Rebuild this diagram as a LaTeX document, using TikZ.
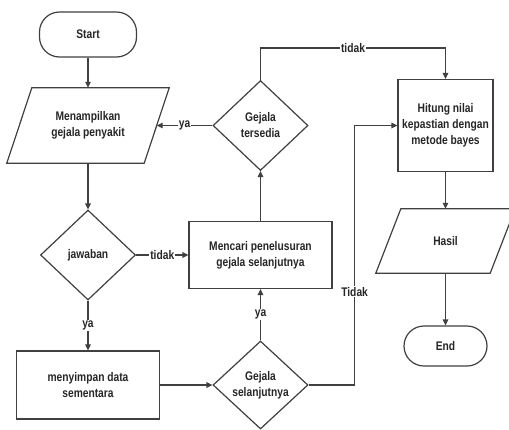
\documentclass[tikz,border=0pt]{standalone}
\usepackage{fontspec}
\setmainfont{Liberation Sans}[FakeStretch=0.82]
\usetikzlibrary{shapes.geometric,arrows.meta}
\definecolor{ln}{HTML}{404040}
\definecolor{tx}{HTML}{262626}
\begin{document}
\begin{tikzpicture}[x=1pt,y=-1pt,
  every node/.style={font=\bfseries\fontsize{12.5}{16}\selectfont, text=tx, align=center},
  box/.style={draw=ln, line width=1.2pt, rectangle, inner sep=0pt},
  term/.style={draw=ln, line width=1.2pt, rectangle, rounded corners=20pt, inner sep=0pt},
  dec/.style={draw=ln, line width=1.2pt, diamond, inner sep=0pt},
  iobox/.style={rectangle, inner sep=0pt},
  shapeline/.style={draw=ln, line width=1.2pt, line join=miter},
  arr/.style={draw=ln, line width=1.2pt, -{Triangle[length=6pt,width=5.5pt]}},
  lab/.style={fill=white, inner sep=1pt}]
\useasboundingbox (0,0) rectangle (509,429);
\fill[white] (0,0) rectangle (509,429);

% nodes
\node[term, minimum width=97pt, minimum height=45pt] (start) at (88,34.5) {Start};
\node[iobox, minimum width=137pt, minimum height=75pt] (tampil) at (88,125.5) {Menampilkan\\gejala penyakit};
\node[dec, minimum width=95pt, minimum height=90pt] (jawab) at (88,255) {jawaban};
\node[box, minimum width=143pt, minimum height=68pt] (simpan) at (88,385) {menyimpan data\\sementara};
\node[dec, minimum width=95pt, minimum height=88pt] (lanjut) at (260.5,385) {Gejala\\selanjutnya};
\node[box, minimum width=143pt, minimum height=67pt] (cari) at (260.5,255) {Mencari penelusuran\\gejala selanjutnya};
\node[dec, minimum width=95pt, minimum height=90pt] (sedia) at (260.5,125.5) {Gejala\\tersedia};
\node[box, minimum width=95pt, minimum height=92pt] (hitung) at (445.5,125.5) {Hitung nilai\\kepastian dengan\\metode bayes};
\node[iobox, minimum width=114pt, minimum height=64pt] (hasil) at (445.5,241) {Hasil};
\node[term, minimum width=83pt, minimum height=40pt] (end) at (445.5,346) {End};

% parallelograms
\draw[shapeline] ([xshift=12.5pt]tampil.north west) -- ([xshift=12.5pt]tampil.north east)
  -- ([xshift=-12.5pt]tampil.south east) -- ([xshift=-12.5pt]tampil.south west) -- cycle;
\draw[shapeline] ([xshift=12.5pt]hasil.north west) -- ([xshift=12.5pt]hasil.north east)
  -- ([xshift=-12.5pt]hasil.south east) -- ([xshift=-12.5pt]hasil.south west) -- cycle;

% connectors
\draw[arr] (start.south) -- (tampil.north);
\draw[arr] (tampil.south) -- (jawab.north);
\draw[arr] (jawab.east) -- node[lab] {tidak} (cari.west);
\draw[arr] (jawab.south) -- node[lab] {ya} (simpan.north);
\draw[arr] (simpan.east) -- (lanjut.west);
\draw[arr] (lanjut.north) -- node[lab] {ya} (cari.south);
\draw[arr] (cari.north) -- (sedia.south);
\draw[arr] (sedia.west) -- node[lab] {ya} (tampil.east);
\draw[arr] (sedia.north) -- ++(0,-32) -| node[lab, pos=0.25] {tidak} (hitung.north);
\draw[arr] (lanjut.east) -- ++(46,0) |- node[lab, pos=0.18] {Tidak} (hitung.west);
\draw[arr] (hitung.south) -- (hasil.north);
\draw[arr] (hasil.south) -- (end.north);
\end{tikzpicture}
\end{document}
